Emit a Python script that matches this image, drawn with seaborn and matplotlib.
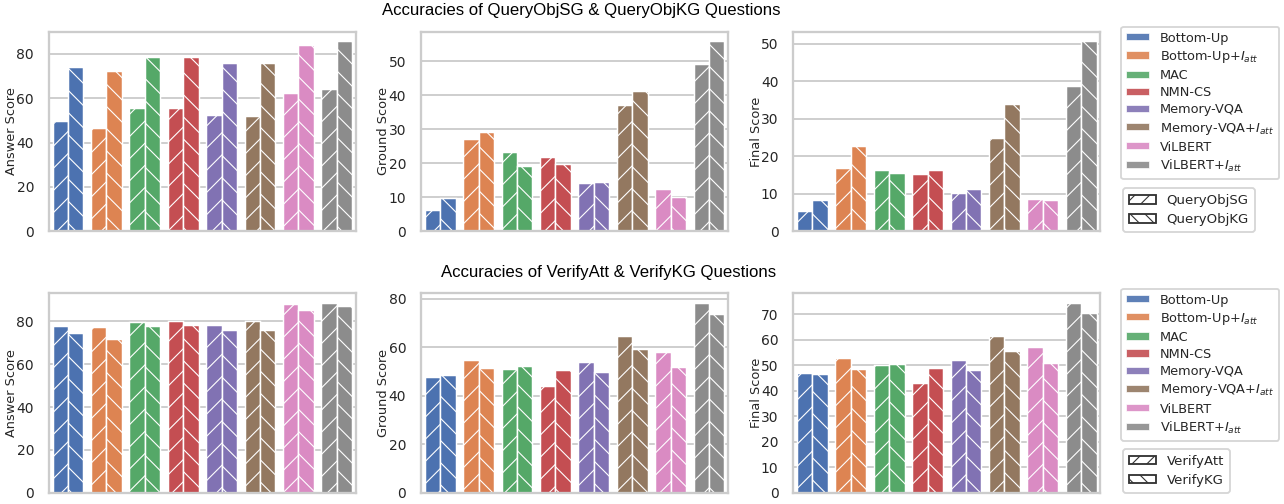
import pandas as pd
import matplotlib
matplotlib.use('Agg')
import matplotlib.pyplot as plt
from matplotlib.patches import Patch
from matplotlib.ticker import MultipleLocator
import seaborn as sns

models = ['Bottom-Up', 'Bottom-Up+$I_{att}$', 'MAC', 'NMN-CS', 'Memory-VQA',
          'Memory-VQA+$I_{att}$', 'ViLBERT', 'ViLBERT+$I_{att}$']

# QueryObjSG / QueryObjKG
query_types = ['QueryObjSG', 'QueryObjKG']
query_answer_sg = [49.5, 46.6, 55.7, 55.7, 52.2, 52.1, 62.3, 64.1]
query_answer_kg = [74.1, 72.2, 78.5, 78.8, 75.9, 75.8, 83.9, 85.7]
query_ground_sg = [6.3, 27.2, 23.3, 21.9, 14.1, 37.2, 12.3, 49.2]
query_ground_kg = [9.7, 29.1, 19.2, 19.9, 14.4, 41.4, 10.2, 55.9]
query_final_sg = [5.5, 16.8, 16.3, 15.2, 10.3, 24.9, 8.5, 38.8]
query_final_kg = [8.2, 22.7, 15.5, 16.3, 11.2, 33.9, 8.3, 50.7]

# VerifyAtt / VerifyKG
verify_types = ['VerifyAtt', 'VerifyKG']
verify_answer_att = [78.0, 77.2, 79.7, 80.2, 78.2, 80.0, 87.8, 88.5]
verify_answer_kg = [74.6, 71.6, 78.0, 78.3, 76.0, 76.0, 85.0, 86.9]
verify_ground_att = [47.9, 55.0, 51.2, 43.9, 54.0, 64.5, 58.1, 78.3]
verify_ground_kg = [48.5, 51.5, 52.3, 50.7, 49.9, 59.5, 52.1, 73.9]
verify_final_att = [46.9, 53.1, 50.2, 43.2, 52.1, 61.7, 57.3, 74.5]
verify_final_kg = [46.5, 48.6, 50.4, 49.1, 48.1, 55.7, 51.1, 70.7]

score_names = ['Answer Score', 'Ground Score', 'Final Score']

sns.set_theme(style='whitegrid')
plt.rcParams['hatch.linewidth'] = 0.6
palette = sns.color_palette('deep', len(models))
hatches = ['//', '\\\\']

DPI = 133
fig, axes = plt.subplots(2, 3, figsize=(1284 / DPI, 504 / DPI), dpi=DPI)
plt.subplots_adjust(left=0.038, right=0.857, bottom=0.022, top=0.937,
                    wspace=0.212, hspace=0.3125)

rows = [
    (query_types, [(query_answer_sg, query_answer_kg),
                   (query_ground_sg, query_ground_kg),
                   (query_final_sg, query_final_kg)], [20, 10, 10]),
    (verify_types, [(verify_answer_att, verify_answer_kg),
                    (verify_ground_att, verify_ground_kg),
                    (verify_final_att, verify_final_kg)], [20, 20, 10]),
]

for r, (types, panels, steps) in enumerate(rows):
    for c, (first, second) in enumerate(panels):
        ax = axes[r, c]
        df = pd.DataFrame({
            'model': models * 2,
            'score': first + second,
            'type': [types[0]] * len(models) + [types[1]] * len(models),
        })
        sns.barplot(data=df, x='model', y='score', hue='type', ax=ax,
                    legend=False, saturation=1, edgecolor='white', linewidth=0.8,
                    palette=['#4c72b0', '#4c72b0'])
        # color by model, hatch by question type
        for h, container in enumerate(ax.containers):
            for m, bar in enumerate(container):
                bar.set_facecolor(palette[m])
                bar.set_edgecolor('white')
                bar.set_hatch(hatches[h])
        ax.set_xticks([])
        ax.set_xlabel('')
        ax.set_ylabel(score_names[c], fontsize=7.0)
        ax.yaxis.set_label_coords(-0.1, 0.5)
        ax.yaxis.set_major_locator(MultipleLocator(steps[c]))
        ax.tick_params(axis='y', labelsize=7.5, pad=2)
        ax.grid(axis='x', visible=False)
        for s in ax.spines.values():
            s.set_color('#cccccc')

    # legends
    model_handles = [Patch(facecolor=palette[i], alpha=0.9, label=models[i])
                     for i in range(len(models))]
    leg1 = axes[r, 2].legend(handles=model_handles, loc='upper left',
                             bbox_to_anchor=(1.068, 1.025), fontsize=7.0,
                             borderaxespad=0, labelspacing=0.32, handleheight=0.6,
                             handlelength=1.8, borderpad=0.4)
    axes[r, 2].add_artist(leg1)
    type_handles = [Patch(facecolor='white', edgecolor='#333333', hatch='///', label=types[0]),
                    Patch(facecolor='white', edgecolor='#333333', hatch='\\\\\\', label=types[1])]
    anchor_y = 0.216 if r == 0 else -0.0
    axes[r, 2].legend(handles=type_handles, loc='upper left' if r == 0 else 'lower left',
                      bbox_to_anchor=(1.075, anchor_y), fontsize=7.2, borderaxespad=0,
                      labelspacing=0.45, handleheight=0.6, handlelength=2.0,
                      borderpad=0.45)

fig.text(581 / 1284, 1 - 10 / 504, 'Accuracies of QueryObjSG & QueryObjKG Questions',
         ha='center', va='center', fontsize=9.1, family='Liberation Sans', color='black')
fig.text(609 / 1284, 1 - 273 / 504, 'Accuracies of VerifyAtt & VerifyKG Questions',
         ha='center', va='center', fontsize=9.1, family='Liberation Sans', color='black')

plt.savefig('out.png', dpi=DPI)
